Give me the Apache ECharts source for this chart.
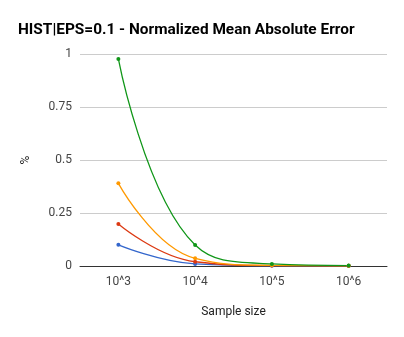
<!DOCTYPE html>
<html>
<head>
<meta charset="utf-8">
<style>
  html, body { margin: 0; padding: 0; background: #fff; }
  #chart { width: 404px; height: 337px; }
</style>
</head>
<body>
<div id="chart"></div>
<script src="https://cdn.jsdelivr.net/npm/echarts@6/dist/echarts.min.js"></script>
<script>
var categories = ['10^3', '10^4', '10^5', '10^6'];
var seriesBlue = [0.1, 0.01, 0.001, 0.0005];
var seriesRed = [0.198, 0.02, 0.002, 0.0008];
var seriesOrange = [0.39, 0.036, 0.003, 0.001];
var seriesGreen = [0.977, 0.099, 0.01, 0.002];
var yTicks = [0, 0.25, 0.5, 0.75, 1];

var chart = echarts.init(document.getElementById('chart'));

function line(data, color) {
  return {
    type: 'line',
    data: data,
    smooth: 0.45,
    symbol: 'circle',
    symbolSize: 4,
    lineStyle: { color: color, width: 1.3 },
    itemStyle: { color: color }
  };
}

var option = {
  animation: false,
  textStyle: { fontFamily: 'Roboto' },
  title: {
    text: 'HIST|EPS=0.1 - Normalized Mean Absolute Error',
    left: 13,
    top: 18,
    textStyle: { fontFamily: 'Roboto', fontSize: 15.4, fontWeight: 'bold', color: '#000' }
  },
  grid: { left: 80, right: 17, top: 54, bottom: 71 },
  xAxis: {
    type: 'category',
    data: categories,
    boundaryGap: true,
    name: 'Sample size',
    nameLocation: 'middle',
    nameGap: 40,
    nameTextStyle: { color: '#222', fontSize: 12 },
    axisLine: { lineStyle: { color: '#333', width: 1 } },
    axisTick: { show: false },
    axisLabel: { color: '#444', fontSize: 12, margin: 10 }
  },
  yAxis: {
    type: 'value',
    min: yTicks[0],
    max: yTicks[yTicks.length - 1],
    interval: 0.25,
    name: '%',
    nameLocation: 'middle',
    nameGap: 48,
    nameTextStyle: { color: '#222', fontSize: 12 },
    axisLine: { show: false },
    axisTick: { show: false },
    splitLine: { lineStyle: { color: '#ccc' } },
    axisLabel: { color: '#444', fontSize: 12, margin: 8 }
  },
  series: [
    line(seriesBlue, '#3366cc'),
    line(seriesRed, '#dc3912'),
    line(seriesOrange, '#ff9900'),
    line(seriesGreen, '#109618')
  ]
};
chart.setOption(option);
</script>
</body>
</html>
